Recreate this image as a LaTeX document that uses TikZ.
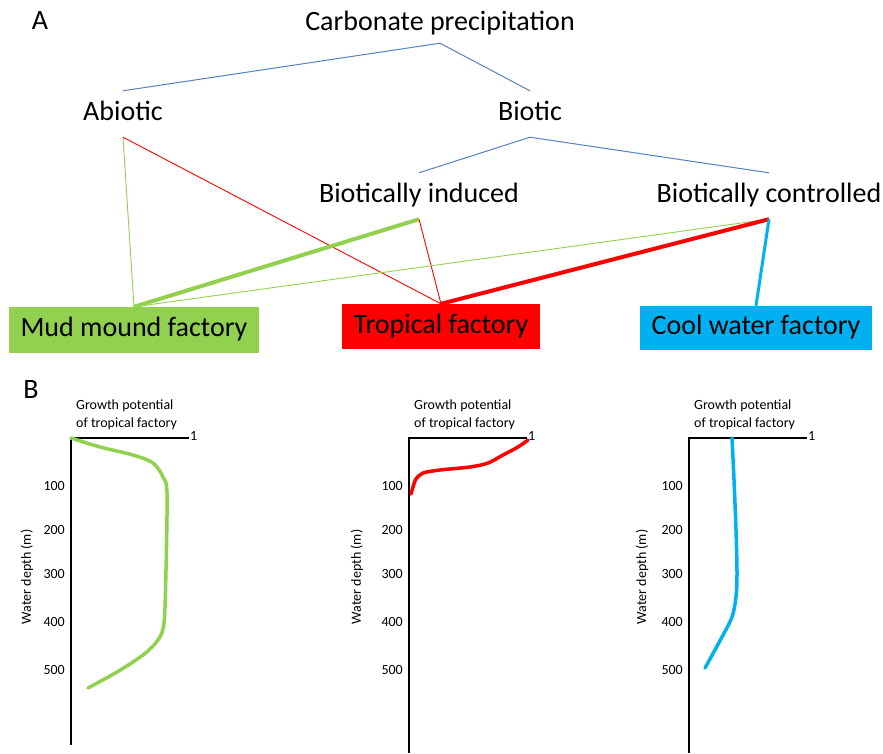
\documentclass[tikz,border=0pt]{standalone}
\usepackage{fontspec}
\setmainfont{Carlito}
\definecolor{mudgreen}{RGB}{146,208,80}
\definecolor{tropred}{RGB}{255,0,0}
\definecolor{coolblue}{RGB}{0,176,240}
\definecolor{treeblue}{RGB}{84,130,190}

\begin{document}
\begin{tikzpicture}[
  x=1pt, y=-1pt,
  big/.style={font=\fontsize{28}{33}\selectfont},
  small/.style={font=\fontsize{14}{18}\selectfont},
  term/.style={big, anchor=base, inner xsep=0pt, inner ysep=11pt, text height=19pt, text depth=5pt},
  factory/.style={big, inner sep=0pt, text height=19pt, text depth=6pt},
  tree/.style={treeblue, line width=1pt},
  weak/.style={line width=0.9pt},
  strong/.style={line width=4pt},
  axis/.style={line width=1.3pt},
  curve/.style={line width=3.5pt, line cap=round, line join=round}
]
\useasboundingbox (0,0) rectangle (883,754);

\node[big, anchor=base] (panelA) at (40,30) {A};
\node[term, inner ysep=7pt] (carb) at (440,31) {Carbonate precipitation};
\node[term] (abiotic) at (123,121) {Abiotic};
\node[term] (biotic) at (530,121) {Biotic};
\node[term] (induced) at (419,203) {Biotically induced};
\node[term] (controlled) at (769,203) {Biotically controlled};

\node[factory, fill=mudgreen, minimum width=250pt, minimum height=46pt] (mud) at (134,330) {Mud mound factory};
\node[factory, fill=tropred, minimum width=198pt, minimum height=45pt] (trop) at (441,326.5) {Tropical factory};
\node[factory, fill=coolblue, minimum width=232pt, minimum height=44pt] (cool) at (756,328) {Cool water factory};

\draw[tree] (abiotic.north) -- (carb.south) -- (biotic.north);
\draw[tree] (induced.north) -- (biotic.south) -- (controlled.north);

\draw[weak, mudgreen] (abiotic.south) -- (mud.north);
\draw[weak, tropred] (abiotic.south) -- (trop.north);
\draw[strong, mudgreen] (induced.south) -- (mud.north);
\draw[weak, tropred] (induced.south) -- (trop.north);
\draw[weak, mudgreen] (controlled.south) -- (mud.north);
\draw[strong, tropred] (controlled.south) -- (trop.north);
\draw[line width=3pt, coolblue] (controlled.south) -- (cool.north);

\node[big, anchor=base] (panelB) at (31,398) {B};

\foreach \o/\w/\e in {71/27/745, 409/357/753, 689/642/753} {
  \draw[axis] (\o+118,438) -- (\o,438) -- (\o,\e);
  \node[small, anchor=base west, inner sep=1pt] (one\o) at (\o+118,440) {1};
  \node[small, align=left, anchor=south west, inner sep=0pt] (title\o) at (\o+5,430) {Growth potential\\of tropical factory};
  \node[small, rotate=90] (depth\o) at (\w,577) {Water depth (m)};
  \foreach \d/\y in {100/486, 200/530, 300/574, 400/622, 500/670}
    \node[small, anchor=east, inner sep=0pt] (tick\o-\d) at (\o-6,\y) {\d};
}

\draw[curve, mudgreen] plot[smooth] coordinates {(71,438) (100,447) (133,455) (153,463) (163,477) (167,493) (166,570) (164,623) (158,640) (143,655) (117,672) (88,688)};
\draw[curve, tropred] plot[smooth] coordinates {(528,440) (518,447) (503,455) (488,463) (470,467) (440,470) (423,473) (416,479) (413,487) (411,494)};
\draw[curve, coolblue] plot[smooth] coordinates {(732,438) (734,480) (736,530) (737,573) (736,597) (732,617) (722,637) (705,668)};
\end{tikzpicture}
\end{document}
